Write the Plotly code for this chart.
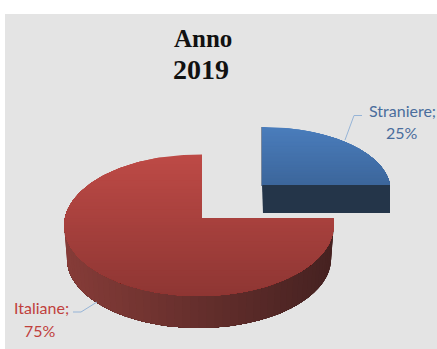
import math
import plotly.graph_objects as go

# Composition of the total, in percent
categories = ["Straniere", "Italiane"]
shares = [25, 75]
title_lines = ["Anno", "2019"]

W, H = 437, 349
BANDS = 44


def mix(a, b, t):
    return "rgb(%d,%d,%d)" % tuple(round(p + (q - p) * t) for p, q in zip(a, b))


def rim(angle, g, scale=1.0, drop=0.0):
    """Perspective position of a rim point; angle runs clockwise from the back of the disc."""
    s, c = math.sin(angle), math.cos(angle)
    d = 1 + g["ky"] * c + g["kx"] * s
    return g["cx"] + scale * g["rx"] * s / d, g["cy"] + drop - scale * g["ry"] * c / d


def clip_below(poly, y0):
    """Keep the part of a polygon lying below a horizontal line."""
    out = []
    for i, p in enumerate(poly):
        q = poly[(i + 1) % len(poly)]
        if p[1] >= y0:
            out.append(p)
        if (p[1] >= y0) != (q[1] >= y0):
            t = (y0 - p[1]) / (q[1] - p[1])
            out.append((p[0] + (q[0] - p[0]) * t, y0))
    return out


def area(fig, pts, color):
    xs = [p[0] for p in pts] + [pts[0][0]]
    ys = [p[1] for p in pts] + [pts[0][1]]
    fig.add_trace(go.Scatter(x=xs, y=ys, mode="lines", fill="toself", fillcolor=color,
                             line=dict(width=0), hoverinfo="skip", showlegend=False))


def top_face(fig, g, a0, a1, c_top, c_bottom):
    # Each band runs down to the lower edge and the next one paints over it,
    # which leaves no seams in the gradient
    steps = max(8, int((a1 - a0) * 40))
    poly = [(g["cx"], g["cy"])]
    poly += [rim(a0 + (a1 - a0) * i / steps, g) for i in range(steps + 1)]
    y_min = min(p[1] for p in poly)
    y_max = max(p[1] for p in poly)
    for i in range(BANDS):
        part = clip_below(poly, y_min + (y_max - y_min) * i / BANDS)
        if len(part) > 2:
            area(fig, part, mix(c_top, c_bottom, (i + 0.5) / BANDS))


def rim_wall(fig, g, a0, a1, c_start, c_end, x_start, x_end):
    steps = 60
    for i in range(steps):
        b0 = a0 + (a1 - a0) * i / steps
        arc = [rim(a0 + (a1 - a0) * j / steps, g) for j in range(i, steps + 1)]
        low = [rim(a0 + (a1 - a0) * j / steps, g, g["base"], g["drop"])
               for j in range(steps, i - 1, -1)]
        t = min(1, max(0, (rim(b0, g)[0] - x_start) / (x_end - x_start)))
        area(fig, arc + low, mix(c_start, c_end, t))


red = dict(cx=202, cy=218, rx=134, ry=70, ky=0.1025, kx=0.0224, base=0.98, drop=33.5)
blue = dict(cx=262, cy=185, rx=128, ry=63, ky=0.085, kx=0.0, base=1.0, drop=28)

fig = go.Figure()

# Pie angles come straight from the shares
blue_sweep = shares[0] / sum(shares) * 2 * math.pi
red_sweep = shares[1] / sum(shares) * 2 * math.pi

# Detached slice: cut face first, then its top
a, b = rim(blue_sweep, blue), (blue["cx"], blue["cy"])
area(fig, [b, a, (a[0], a[1] + blue["drop"]), (b[0] + 1, b[1] + blue["drop"])], "rgb(36,53,73)")
fig.add_trace(go.Scatter(x=[b[0], rim(0, blue)[0]], y=[b[1] + 1, rim(0, blue)[1]], mode="lines",
                         line=dict(color="rgb(50,75,110)", width=1.2), hoverinfo="skip",
                         showlegend=False))
top_face(fig, blue, 0, blue_sweep, (74, 125, 188), (60, 102, 155))

# Main slice: curved wall around the front, then its top
rim_wall(fig, red, blue_sweep, blue_sweep + 0.7 * red_sweep,
         (70, 34, 33), (134, 60, 56), 333, 66)
top_face(fig, red, blue_sweep, blue_sweep + red_sweep, (190, 74, 70), (142, 54, 51))

# Leader lines
for xs, ys in (([345, 354, 362], [140, 115.5, 115.5]), ([97, 81, 73], [302, 312, 312])):
    fig.add_trace(go.Scatter(x=xs, y=ys, mode="lines", line=dict(color="rgb(150,180,215)", width=1),
                             hoverinfo="skip", showlegend=False))

ann = [
    dict(x=203, y=38, text=f"<b>{title_lines[0]}</b>", font=dict(family="Liberation Serif", size=25, color="#111111")),
    dict(x=201, y=69, text=f"<b>{title_lines[1]}</b>", font=dict(family="Liberation Serif", size=28, color="#111111")),
    dict(x=402, y=110, text=f"{categories[0]};", font=dict(family="Lato", size=16, color="#4a6d9c")),
    dict(x=402, y=132, text=f"{shares[0]}%", font=dict(family="Lato", size=16, color="#4a6d9c")),
    dict(x=41, y=307, text=f"{categories[1]};", font=dict(family="Lato", size=16, color="#c0403c")),
    dict(x=40, y=330, text=f"{shares[1]}%", font=dict(family="Lato", size=16, color="#c0403c")),
]
for item in ann:
    item.update(xref="x", yref="y", showarrow=False, xanchor="center", yanchor="middle")

fig.update_layout(
    width=W, height=H, autosize=False,
    margin=dict(l=0, r=0, t=0, b=0),
    paper_bgcolor="white", plot_bgcolor="white",
    xaxis=dict(range=[0, W], visible=False, fixedrange=True),
    yaxis=dict(range=[H, 0], visible=False, fixedrange=True),
    shapes=[dict(type="rect", layer="below", x0=5, y0=14, x1=W, y1=H,
                 fillcolor="#e4e4e4", line=dict(width=0))],
    annotations=ann,
)

fig.write_html("out.html", config=dict(displayModeBar=False))
